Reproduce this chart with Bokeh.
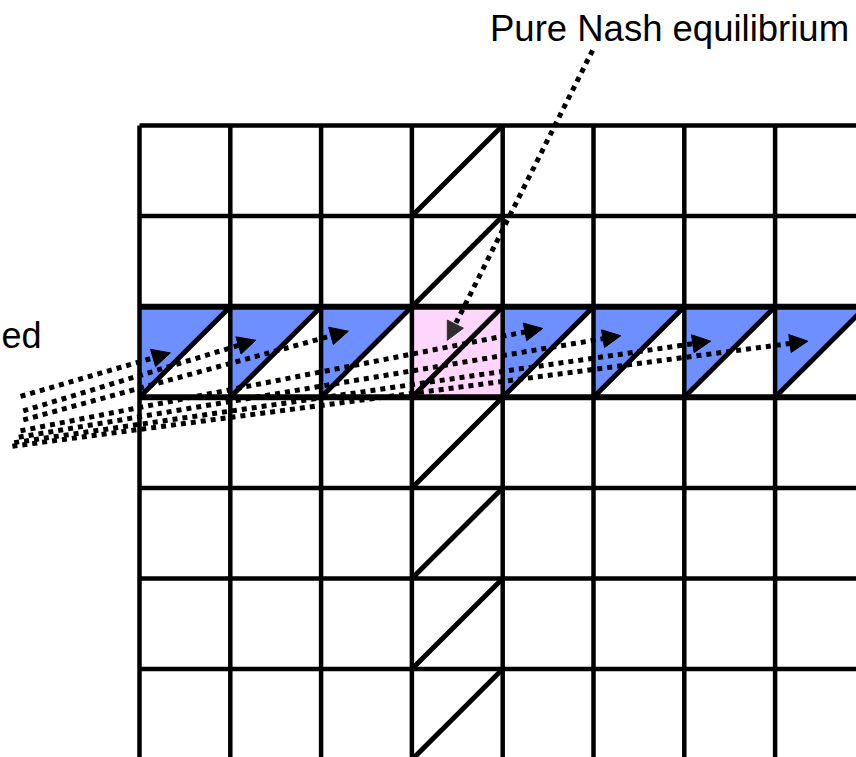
from bokeh.plotting import figure
from bokeh.models import Range1d, Arrow, NormalHead
from bokeh.core.properties import value
from bokeh.embed import file_html
from bokeh.resources import INLINE

# ---- data (grid units: 1 unit = one cell, y grows downward) ----
n_cols = 8
n_rows = 7
best_row = 2          # row of best responses
nash_col = 3          # column with the pure Nash equilibrium
blue_cols = [0, 1, 2, 4, 5, 6, 7]

# best-response arrows: start and end points
br_x0 = [-1.31, -1.28, -1.28, -1.31, -1.33, -1.38, -1.40]
br_y0 = [2.99, 3.15, 3.25, 3.37, 3.44, 3.50, 3.54]
br_x1 = [0.34, 1.28, 2.30, 4.44, 5.30, 6.29, 7.36]
br_y1 = [2.51, 2.37, 2.27, 2.24, 2.32, 2.38, 2.38]

# Nash label arrow
nash_x0, nash_y0 = 4.99, -0.83
nash_x1, nash_y1 = 3.39, 2.37

label_nash = "Pure Nash equilibrium"
label_nash_xy = (3.86, -1.07)
label_left = "ed"
label_left_xy = (-1.52, 2.32)

# ---- figure ----
W, H = 856, 757
p = figure(width=W, height=H, output_backend="svg", toolbar_location=None,
           x_range=Range1d(-1.5308, 7.8965), y_range=Range1d(6.9757, -1.3797),
           min_border=0, background_fill_color="white", border_fill_color="white")
p.axis.visible = False
p.grid.visible = False
p.outline_line_color = None

BLUE = "#6D8FFF"
PINK = "#FFD6FB"

# blue triangles (upper-left halves)
tx = [[c, c + 1, c] for c in blue_cols]
ty = [[best_row, best_row, best_row + 1] for c in blue_cols]
p.patches(tx, ty, fill_color=BLUE, line_color=None)

# pink Nash cell
p.quad(left=[nash_col], right=[nash_col + 1], top=[best_row], bottom=[best_row + 1],
       fill_color=PINK, line_color=None)

# grid lines
p.segment(x0=list(range(n_cols + 1)), y0=[0] * (n_cols + 1),
          x1=list(range(n_cols + 1)), y1=[n_rows] * (n_cols + 1),
          line_color="black", line_width=4.5)
p.segment(x0=[0] * (n_rows + 1), y0=list(range(n_rows + 1)),
          x1=[n_cols] * (n_rows + 1), y1=list(range(n_rows + 1)),
          line_color="black", line_width=4.5)
# emphasised best-response row border
p.segment(x0=[0, 0], y0=[best_row, best_row + 1], x1=[n_cols, n_cols],
          y1=[best_row, best_row + 1], line_color="black", line_width=6)

# diagonals
diag_cells = [(nash_col, r) for r in range(n_rows) if r != best_row] + \
             [(c, best_row) for c in range(n_cols)]
p.segment(x0=[c for c, r in diag_cells], y0=[r + 1 for c, r in diag_cells],
          x1=[c + 1 for c, r in diag_cells], y1=[r for c, r in diag_cells],
          line_color="black", line_width=5)

# best response arrows
for x0, y0, x1, y1 in zip(br_x0, br_y0, br_x1, br_y1):
    p.add_layout(Arrow(end=NormalHead(size=18, fill_color="black", line_color="black",
                                      line_width=1),
                       x_start=x0, y_start=y0, x_end=x1, y_end=y1,
                       line_color="black", line_width=5, line_dash="5 5"))

# Nash arrow
p.add_layout(Arrow(end=NormalHead(size=18, fill_color="#2e2e2e", line_color="#2e2e2e",
                                  line_width=1),
                   x_start=nash_x0, y_start=nash_y0, x_end=nash_x1, y_end=nash_y1,
                   line_color="black", line_width=5, line_dash="5 5"))

# labels
p.text(x=[label_nash_xy[0]], y=[label_nash_xy[1]], text=[label_nash],
       text_font=value("Liberation Sans"), text_font_size="36.5px",
       text_baseline="alphabetic", text_align="left", text_color="black")
p.text(x=[label_left_xy[0]], y=[label_left_xy[1]], text=[label_left],
       text_font=value("Liberation Sans"), text_font_size="36px",
       text_baseline="alphabetic", text_align="left", text_color="black")

open("out.html", "w").write(file_html(p, INLINE))
